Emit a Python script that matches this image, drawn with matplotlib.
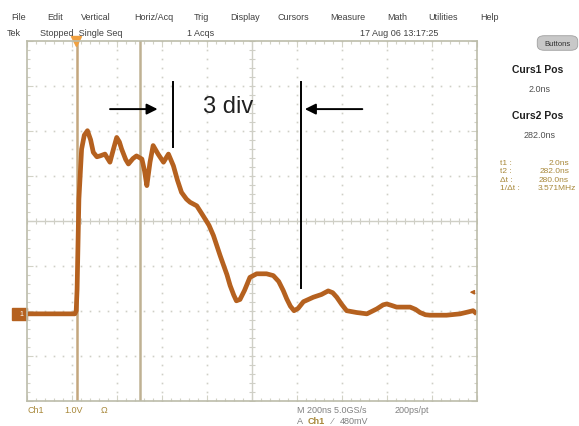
import numpy as np
import matplotlib
matplotlib.use('Agg')
from matplotlib import pyplot as plt
from matplotlib.patches import Rectangle, FancyBboxPatch

plt.rcParams['font.family'] = ['Liberation Sans', 'DejaVu Sans']

# 波形 (單位: 格, x 0..10, y -4..4)
trace_x = [0.0, 1.07, 1.10, 1.12, 1.16, 1.22, 1.28, 1.35, 1.42, 1.48, 1.56, 1.63, 1.74, 1.80, 1.85,
           1.93, 2.00, 2.06, 2.11, 2.20, 2.26, 2.36, 2.44, 2.56, 2.62, 2.67, 2.74, 2.81, 2.92, 3.04,
           3.15, 3.26, 3.35, 3.44, 3.55, 3.63, 3.78, 3.92, 4.05, 4.15, 4.30, 4.45, 4.52, 4.60,
           4.66, 4.74, 4.84, 4.96, 5.11, 5.33, 5.48, 5.60, 5.70, 5.78, 5.86, 5.94, 6.03,
           6.15, 6.37, 6.55, 6.70, 6.80, 6.89, 7.00, 7.11, 7.33, 7.56, 7.78, 7.92, 8.00, 8.10, 8.22,
           8.52, 8.64, 8.74, 8.86, 8.96, 9.33, 9.63, 9.80, 9.92, 10.0]
trace_y = [-2.07, -2.07, -2.00, -1.52, 0.48, 1.59, 1.90, 2.00, 1.80, 1.52, 1.42, 1.44, 1.48, 1.38, 1.30,
           1.60, 1.85, 1.75, 1.59, 1.36, 1.26, 1.38, 1.44, 1.37, 1.10, 0.78, 1.30, 1.67, 1.48, 1.30,
           1.48, 1.22, 0.90, 0.63, 0.48, 0.41, 0.33, 0.11, -0.10, -0.33, -0.78, -1.20, -1.44, -1.65,
           -1.78, -1.75, -1.55, -1.26, -1.18, -1.18, -1.22, -1.35, -1.55, -1.74, -1.90, -2.00, -1.95,
           -1.80, -1.70, -1.64, -1.56, -1.60, -1.70, -1.86, -2.00, -2.04, -2.07, -1.96, -1.87, -1.85, -1.88, -1.92,
           -1.92, -1.97, -2.04, -2.09, -2.10, -2.10, -2.07, -2.03, -2.00, -2.07]

baseline = -2.07
ns_per_div = 200.0
t0_div = 1.10          # 觸發點位置
curs1_ns = 2.0
curs2_ns = 282.0
trig_level_v = 0.48    # 1V/div
volt_per_div = 1.0

# 標註
mark1_x = 3.24
mark2_x = 6.09
mark_top = 3.08
mark1_bot = 1.63
mark2_bot = -1.50
arrow_y = 2.48

W, H = 579, 427
fig = plt.figure(figsize=(W / 100, H / 100), dpi=100)
fig.patch.set_facecolor('white')
ax = fig.add_axes([26.7 / W, 1 - 401.7 / H, 450 / W, 360 / H])
ax.set_xlim(0, 10)
ax.set_ylim(-4, 4)

grid_c = '#cfcfc6'
edge_c = '#bcbcaa'
tick_c = '#d2d2c6'
for s in ax.spines.values():
    s.set_color(edge_c)
    s.set_linewidth(1.2)
ax.set_xticks(np.arange(0, 11, 1))
ax.set_yticks(np.arange(-4, 5, 1))
ax.set_xticks(np.arange(0, 10.01, 0.2), minor=True)
ax.set_yticks(np.arange(-4, 4.01, 0.2), minor=True)
ax.tick_params(which='both', direction='in', top=True, right=True,
               labelbottom=False, labelleft=False, color=tick_c, width=0.8)
ax.tick_params(which='major', length=4)
ax.tick_params(which='minor', length=2.5)

# 點狀格線
dots = np.arange(0, 10.01, 0.2)
dots_v = np.arange(-4, 4.01, 0.2)
for gy in range(-3, 4):
    if gy != 0:
        ax.plot(dots, np.full_like(dots, gy), ls='none', marker='s', ms=1.2,
                color=grid_c, mew=0)
for gx in range(1, 10):
    if gx != 5:
        ax.plot(np.full_like(dots_v, gx), dots_v, ls='none', marker='s', ms=1.2,
                color=grid_c, mew=0)
# 中心十字
ax.axhline(0, color=grid_c, lw=1)
ax.axvline(5, color=grid_c, lw=1)
ax.plot(dots, np.zeros_like(dots), ls='none', marker='|', ms=5, color=grid_c, mew=0.8)
ax.plot(np.full_like(dots_v, 5), dots_v, ls='none', marker='_', ms=5, color=grid_c, mew=0.8)

# 游標
c1 = t0_div + curs1_ns / ns_per_div
c2 = t0_div + curs2_ns / ns_per_div
ax.axvline(c1, color='#c4a77e', lw=1.8)
ax.axvline(c2, color='#bfb193', lw=1.8)

# 波形
ax.plot(trace_x, trace_y, color='#b5611f', lw=3.4, solid_joinstyle='round',
        solid_capstyle='butt')

# Ch1 參考標記
ax.add_patch(Rectangle((-0.33, baseline - 0.13), 0.33, 0.26, color='#b5611f',
                       clip_on=False))
ax.text(-0.12, baseline, '1', color='white', fontsize=5, ha='center', va='center',
        clip_on=False)

# 觸發位置/位準
ax.plot([t0_div], [4.0], marker='v', ms=7, color='#f0a040', clip_on=False)
trig_y = baseline + trig_level_v / volt_per_div
ax.annotate('', xy=(9.78, trig_y), xytext=(10.0, trig_y),
            arrowprops=dict(arrowstyle='-|>', color='#b5611f', lw=1, mutation_scale=6))

# 3 div 標註
ax.plot([mark1_x, mark1_x], [mark_top, mark1_bot], color='black', lw=1.4)
ax.plot([mark2_x, mark2_x], [mark_top, mark2_bot], color='black', lw=1.4)
ax.annotate('', xy=(2.97, arrow_y), xytext=(1.79, arrow_y),
            arrowprops=dict(arrowstyle='-|>', color='black', lw=1.4, mutation_scale=16))
ax.annotate('', xy=(6.12, arrow_y), xytext=(7.52, arrow_y),
            arrowprops=dict(arrowstyle='-|>', color='black', lw=1.4, mutation_scale=16))
ax.text(4.47, 2.56, '3 div', fontsize=17, ha='center', va='center', color='#202020')


def ftxt(x, y, s, **kw):
    kw.setdefault('fontsize', 6.5)
    kw.setdefault('color', '#404040')
    kw.setdefault('va', 'center')
    fig.text(x / W, 1 - y / H, s, **kw)


menu = [('File', 11), ('Edit', 47), ('Vertical', 81), ('Horiz/Acq', 134),
        ('Trig', 194), ('Display', 230), ('Cursors', 278), ('Measure', 330),
        ('Math', 387), ('Utilities', 428), ('Help', 480)]
for s, x in menu:
    ftxt(x, 17, s)
ftxt(7, 33, 'Tek')
ftxt(40, 33, 'Stopped  Single Seq')
ftxt(187, 33, '1 Acqs')
ftxt(360, 33, '17 Aug 06 13:17:25')

btn = FancyBboxPatch((539 / W, 1 - 50 / H), 37 / W, 12 / H,
                     boxstyle='round,pad=0.003,rounding_size=0.012',
                     transform=fig.transFigure, facecolor='#c8c8c8',
                     edgecolor='#a0a0a0', lw=0.6)
fig.patches.append(btn)
ftxt(557.5, 44, 'Buttons', ha='center', fontsize=5.5, color='#303030')

ftxt(538, 70, 'Curs1 Pos', ha='center', fontsize=7.5, fontweight='bold', color='#202020')
ftxt(540, 89, '2.0ns', ha='center', fontsize=6.5, color='#505050')
ftxt(538, 116, 'Curs2 Pos', ha='center', fontsize=7.5, fontweight='bold', color='#202020')
ftxt(540, 136, '282.0ns', ha='center', fontsize=6.5, color='#505050')

gold = '#a8883a'
rows = [('t1 :', '2.0ns', 569), ('t2 :', '282.0ns', 569),
        ('\u0394t :', '280.0ns', 569), ('1/\u0394t :', '3.571MHz', 576)]
for i, (a, b, xr) in enumerate(rows):
    yy = 164 + 8 * i
    ftxt(500, yy, a, fontsize=6, color=gold)
    ftxt(xr, yy, b, fontsize=6, color=gold, ha='right')

ftxt(27, 411, 'Ch1', color=gold)
ftxt(64, 411, '1.0V', color=gold)
ftxt(101, 411, '\u03a9', color=gold)
ftxt(297, 411, 'M 200ns 5.0GS/s', color='#808080')
ftxt(395, 411, '200ps/pt', color='#808080')
ftxt(297, 422, 'A', color='#808080')
ftxt(308, 422, 'Ch1', color=gold, fontweight='bold')
ftxt(332, 422, '\u2044', color='#808080')
ftxt(340, 422, '480mV', color='#808080')

fig.savefig('out.png', dpi=100)
